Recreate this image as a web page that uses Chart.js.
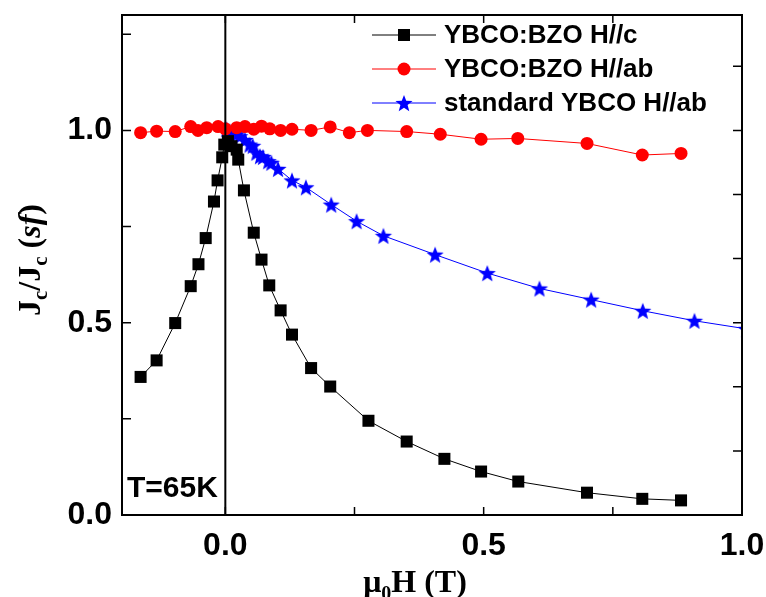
<!DOCTYPE html>
<html>
<head>
<meta charset="utf-8">
<script src="https://cdn.jsdelivr.net/npm/chart.js@4/dist/chart.umd.min.js"></script>
<style>
  html,body{margin:0;padding:0;background:#fff;}
  #wrap{width:766px;height:597px;}
</style>
</head>
<body>
<div id="wrap"><canvas id="jc_chart" width="766" height="597"></canvas></div>
<script>
//DATA
const hc_x=[-0.164,-0.133,-0.097,-0.067,-0.052,-0.038,-0.022,-0.015,-0.006,-0.002,0.005,0.012,0.022,0.025,0.036,0.055,0.070,0.085,0.107,0.129,0.166,0.203,0.277,0.351,0.424,0.495,0.567,0.700,0.807,0.882];
const hc_y=[0.359,0.402,0.499,0.595,0.652,0.720,0.815,0.870,0.930,0.963,0.972,0.959,0.950,0.924,0.844,0.734,0.664,0.597,0.532,0.469,0.382,0.334,0.245,0.191,0.146,0.113,0.087,0.058,0.042,0.038];

const ab_x=[-0.164,-0.133,-0.097,-0.067,-0.053,-0.036,-0.014,0.000,0.022,0.038,0.055,0.070,0.086,0.107,0.129,0.166,0.203,0.240,0.275,0.351,0.416,0.495,0.566,0.700,0.807,0.882];
const ab_y=[0.994,0.998,0.997,1.010,1.000,1.007,1.010,1.004,1.007,1.010,1.003,1.011,1.004,1.000,1.003,1.000,1.009,0.994,1.000,0.997,0.990,0.977,0.979,0.966,0.936,0.940];

const std_x=[0.002,0.008,0.015,0.022,0.028,0.038,0.047,0.053,0.060,0.067,0.073,0.083,0.089,0.102,0.129,0.156,0.205,0.254,0.306,0.406,0.507,0.608,0.708,0.808,0.908,1.008];
const std_y=[1.003,0.998,0.994,0.990,0.985,0.975,0.963,0.960,0.942,0.933,0.931,0.920,0.916,0.900,0.870,0.852,0.807,0.764,0.726,0.677,0.629,0.589,0.560,0.531,0.505,0.484];

const labels=['YBCO:BZO H//c','YBCO:BZO H//ab','standard YBCO H//ab'];
const x_ticks=[0,0.5,1.0];
const y_ticks=[0,0.5,1.0];
const x_minor=[0,0.25,0.5,0.75,1.0];
const y_minor=[0,0.25,0.5,0.75,1.0,1.25];
const y_right=[1/6,2/6,3/6,4/6,5/6,1,7/6];

//BUILD POINTS
function toPoints(xs,ys){
    return xs.map((x,i)=>({x:x,y:ys[i]}));
}

//FILLED STAR MARKER
function makeStar(color,r){
    const c=document.createElement('canvas');
    const s=Math.ceil(r*2+2);
    c.width=s;c.height=s;
    const g=c.getContext('2d');
    g.fillStyle=color;
    g.beginPath();
    for(let i=0;i<10;i++){
        const rad=(i%2==0)?r:r*0.42;
        const a=-Math.PI/2+i*Math.PI/5;
        const px=s/2+rad*Math.cos(a),py=s/2+rad*Math.sin(a)+r*0.1;
        if(i==0)g.moveTo(px,py);else g.lineTo(px,py);
    }
    g.closePath();
    g.fill();
    return c;
}
const star=makeStar('#0000ff',9);

const SANS='"Liberation Sans", Arial, sans-serif';
const SERIF='"Liberation Serif", "Times New Roman", serif';

//EXTRA DRAWING: FRAME, TICKS, ZERO LINE, LEGEND, TITLES
const decor={
    id:'decor',
    afterDatasetsDraw(chart){
        const ctx=chart.ctx,a=chart.chartArea;
        const xs=chart.scales.x,ys=chart.scales.y;
        ctx.save();
        //zero line
        ctx.strokeStyle='#000';
        ctx.lineWidth=2;
        const x0=xs.getPixelForValue(0);
        ctx.beginPath();ctx.moveTo(x0,a.top);ctx.lineTo(x0,a.bottom);ctx.stroke();
        //frame
        ctx.strokeRect(a.left,a.top,a.right-a.left,a.bottom-a.top);
        //ticks
        ctx.lineWidth=1.5;
        ctx.beginPath();
        x_minor.forEach(v=>{
            const p=xs.getPixelForValue(v);
            ctx.moveTo(p,a.bottom);ctx.lineTo(p,a.bottom-8);
            ctx.moveTo(p,a.top);ctx.lineTo(p,a.top+8);
        });
        y_minor.forEach(v=>{
            const p=ys.getPixelForValue(v);
            ctx.moveTo(a.left,p);ctx.lineTo(a.left+9,p);
        });
        y_right.forEach(v=>{
            const p=ys.getPixelForValue(v);
            ctx.moveTo(a.right,p);ctx.lineTo(a.right-9,p);
        });
        ctx.stroke();

        //legend
        const H=Chart.helpers;
        const lx1=a.right-370,lx2=a.right-306,mx=(lx1+lx2)/2;
        chart.data.datasets.forEach((d,i)=>{
            const y=a.top+20+i*34;
            ctx.strokeStyle=d.borderColor;
            ctx.lineWidth=1;
            ctx.beginPath();ctx.moveTo(lx1,y);ctx.lineTo(lx2,y);ctx.stroke();
            ctx.fillStyle=d.backgroundColor;
            H.drawPoint(ctx,{pointStyle:d.pointStyle,radius:d.pointRadius,borderWidth:0,rotation:0},mx,y);
            ctx.fillStyle='#000';
            ctx.font='bold 26px '+SANS;
            ctx.textAlign='left';ctx.textBaseline='middle';
            ctx.fillText(labels[i],lx2+8,y+1);
        });

        //T=65K
        ctx.font='bold 30px '+SANS;
        ctx.textAlign='left';ctx.textBaseline='alphabetic';
        ctx.fillStyle='#000';
        ctx.fillText('T=65K',a.left+5,a.bottom-18);

        //x title
        drawRich(ctx,[['μ',32,0,''],['0',20,8,''],['H (T)',32,0,'']],415,592,0);
        //y title
        drawRich(ctx,[['J',32,0,''],['c',21,7,''],['/J',32,0,''],['c',21,7,''],[' (',32,0,''],['sf',32,0,'italic '],[')',32,0,'']],40,260,-Math.PI/2);
        ctx.restore();
    }
};

function drawRich(ctx,parts,cx,cy,rot){
    let w=0;
    parts.forEach(p=>{ctx.font=p[3]+'bold '+p[1]+'px '+SERIF;w+=ctx.measureText(p[0]).width;});
    ctx.save();
    ctx.translate(cx,cy);
    ctx.rotate(rot);
    ctx.fillStyle='#000';
    ctx.textAlign='left';ctx.textBaseline='alphabetic';
    let x=-w/2;
    parts.forEach(p=>{
        ctx.font=p[3]+'bold '+p[1]+'px '+SERIF;
        ctx.fillText(p[0],x,p[2]);
        x+=ctx.measureText(p[0]).width;
    });
    ctx.restore();
}

const ctx=document.getElementById('jc_chart').getContext('2d');
const my_chart=new Chart(ctx,{
    type:'scatter',
    data:{
        datasets:[{
            label:labels[0],
            data:toPoints(hc_x,hc_y),
            showLine:true,
            borderColor:'#000',
            backgroundColor:'#000',
            borderWidth:1,
            pointStyle:'rect',
            pointRadius:8.5,
            pointBorderWidth:0
        },{
            label:labels[1],
            data:toPoints(ab_x,ab_y),
            showLine:true,
            borderColor:'#ff0000',
            backgroundColor:'#ff0000',
            borderWidth:1,
            pointStyle:'circle',
            pointRadius:6.5,
            pointBorderWidth:0
        },{
            label:labels[2],
            data:toPoints(std_x,std_y),
            showLine:true,
            borderColor:'#0000ff',
            backgroundColor:'#0000ff',
            borderWidth:1,
            pointStyle:star,
            pointRadius:9,
            pointBorderWidth:0
        }]
    },
    options:{
        responsive:false,
        animation:false,
        events:[],
        layout:{padding:{top:15,right:24,left:0,bottom:0}},
        plugins:{legend:{display:false},tooltip:{enabled:false}},
        scales:{
            x:{
                type:'linear',min:-0.2,max:1.0,
                grid:{display:false,drawTicks:false},
                border:{display:false},
                afterBuildTicks:s=>{s.ticks=x_ticks.map(v=>({value:v}));},
                afterFit:s=>{s.height=82;s.paddingLeft=0;s.paddingRight=0;},
                ticks:{color:'#000',padding:12,font:{family:SANS,size:32,weight:'bold'},callback:v=>v.toFixed(1),maxRotation:0}
            },
            y:{
                type:'linear',min:0,max:1.3,
                grid:{display:false,drawTicks:false},
                border:{display:false},
                afterBuildTicks:s=>{s.ticks=y_ticks.map(v=>({value:v}));},
                afterFit:s=>{s.width=122;s.paddingTop=0;s.paddingBottom=0;},
                ticks:{color:'#000',padding:10,font:{family:SANS,size:32,weight:'bold'},callback:v=>v.toFixed(1)}
            }
        }
    },
    plugins:[decor]
});
</script>
</body>
</html>
